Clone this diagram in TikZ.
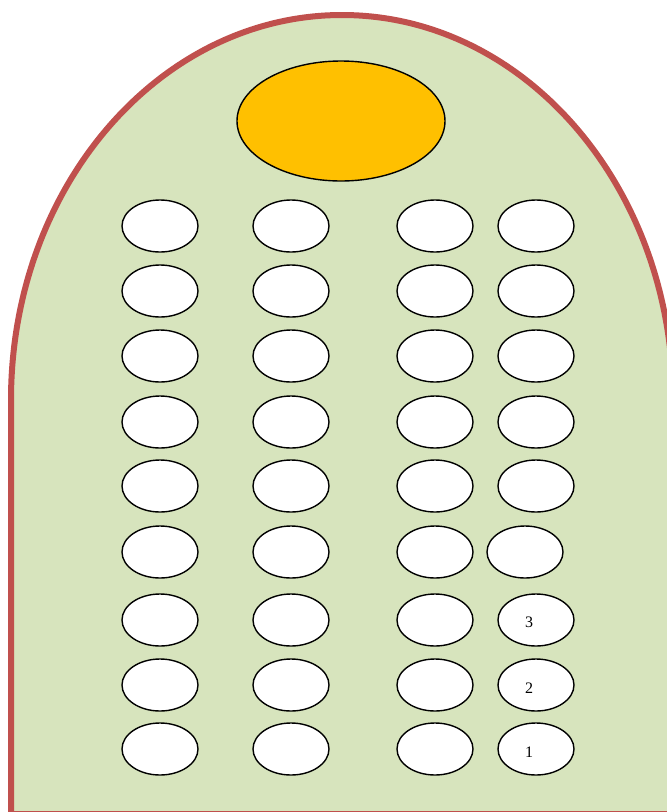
\documentclass[tikz,border=0pt]{standalone}
\usepackage{fontspec}
\setmainfont{Liberation Serif}
\usetikzlibrary{shapes.geometric}
\definecolor{archgreen}{HTML}{D7E4BD}
\definecolor{archred}{HTML}{C0504D}
\definecolor{gold}{HTML}{FFC000}
\begin{document}
\begin{tikzpicture}[x=1pt,y=-1pt,
  seat/.style={ellipse,draw=black,line width=1.4pt,fill=white,minimum width=76pt,minimum height=52pt,inner sep=0pt},
  podium/.style={ellipse,draw=black,line width=1.4pt,fill=gold,minimum width=208pt,minimum height=120pt,inner sep=0pt},
  numlabel/.style={font=\fontsize{16}{18}\selectfont,inner sep=0pt}]
\useasboundingbox (0,0) rectangle (667,812);
\begin{scope}
\clip (0,0) rectangle (667,812);
\draw[archred,line width=6pt,fill=archgreen] (11,814) -- (11,400) arc[start angle=180,end angle=0,x radius=331,y radius=-385] -- (673,814) -- cycle;
\end{scope}
\node[podium] (pod) at (341,121) {};
\foreach \r/\y in {1/226,2/291,3/356,4/422,5/486,6/552,7/620,8/685,9/749}{
  \node[seat] (a\r) at (160,\y) {};
  \node[seat] (b\r) at (291,\y) {};
  \node[seat] (c\r) at (435,\y) {};
}
\foreach \r/\y in {1/226,2/291,3/356,4/422,5/486}{
  \node[seat] (d\r) at (536,\y) {};
}
\node[seat] (d6) at (525,552) {};
\node[seat] (d7) at (536,620) {};
\node[seat] (d8) at (536,685) {};
\node[seat] (d9) at (536,749) {};
\node[numlabel] (l3) at (529,622) {3};
\node[numlabel] (l2) at (529,688) {2};
\node[numlabel] (l1) at (529,752) {1};
\end{tikzpicture}
\end{document}
